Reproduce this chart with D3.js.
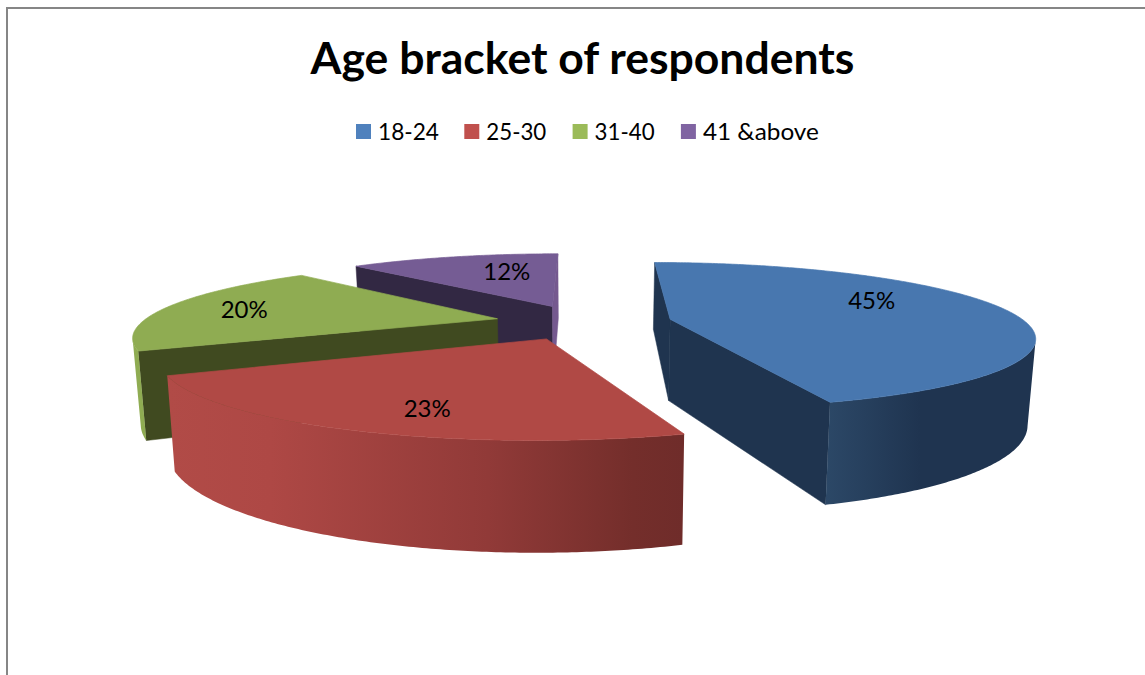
<!DOCTYPE html>
<html>
<head>
<meta charset="utf-8">
<script src="https://cdn.jsdelivr.net/npm/d3@7"></script>
<style>
html,body{margin:0;padding:0;background:#fff;overflow:hidden}
svg{display:block}
text{font-family:Lato,"Open Sans",sans-serif;fill:#000}
</style>
</head>
<body>
<svg id="chart" width="1145" height="675"></svg>
<script>
const title = "Age bracket of respondents";
const categories = ["18-24", "25-30", "31-40", "41 &above"];
const values = [45, 23, 20, 12];

const legendColors = ["#4F81BD", "#C0504D", "#9BBB59", "#8064A2"];
const topColors = ["#4877AF", "#B04945", "#8FAC52", "#755C94"];
const startWallColors = ["#1F344F", "#6F2C2A", "#404A20", "#322843"];
const endWallColors = ["#1F344F", "#B04945", "#8FAC52", "#75598F"];
const outerStops = [
  [[0, "#2C4867"], [0.45, "#1F3450"], [1, "#1F3450"]],
  [[0, "#B14B47"], [0.2, "#AE4845"], [0.62, "#913A38"], [0.9, "#742E2B"], [1, "#6F2C2A"]],
  [[0, "#8FAC52"], [1, "#8FAC52"]],
  [[0, "#75598F"], [1, "#75598F"]]
];
const legendTextWidths = [61, 60, 60, 116];
const paintOrder = [3, 2, 0, 1];
/* label placement around each slice: degrees from the mid-angle, fraction of radius */
const labelTurn = [-15.4, -4.8, -0.8, 6.6];
const labelReach = [0.684, 0.777, 0.76, 0.636];

/* perspective camera */
const vanishX = 583.5, vanishY = 2, planeDrop = 320, depthCam = 1615;
const radius = 355, explode = 88.5, sliceHeight = 82, baseShrink = 0.982;

const svg = d3.select("#chart");
const defs = svg.append("defs");

/* page frame: top and left rules only */
svg.append("path")
  .attr("d", "M7,675V8H1145")
  .attr("fill", "none").attr("stroke", "#868686").attr("stroke-width", 2);

svg.append("text").attr("x", 582.5).attr("y", 74)
  .attr("text-anchor", "middle").attr("font-size", 44.5).attr("font-weight", 700)
  .text(title);

/* legend */
const legendX = d3.scaleLinear().domain([0, 1]).range([356, 464.3]);
const legend = svg.append("g").selectAll("g").data(categories).join("g")
  .attr("transform", (d, i) => `translate(${legendX(i)},124)`);
legend.append("rect").attr("width", 15).attr("height", 15)
  .attr("fill", (d, i) => legendColors[i]);
legend.append("text").attr("x", 22).attr("y", 15.5).attr("font-size", 24)
  .attr("textLength", (d, i) => legendTextWidths[i]).attr("lengthAdjust", "spacingAndGlyphs")
  .text(d => d);

/* angles from the library's pie layout */
const arcs = d3.pie().sort(null).startAngle(0).endAngle(2 * Math.PI)(values);

function ground(a, r, s) {
  const mid = (s.startAngle + s.endAngle) / 2;
  return [explode * Math.sin(mid) + r * Math.sin(a), -explode * Math.cos(mid) - r * Math.cos(a)];
}
function project(p, lower) {
  const w = 1 / (1 - p[1] / depthCam);
  return lower
    ? [vanishX + p[0] * w * baseShrink, vanishY + (planeDrop + sliceHeight) * w]
    : [vanishX + p[0] * w, vanishY + planeDrop * w];
}
const poly = d3.line();
const closed = pts => poly(pts) + "Z";
function sweep(a0, a1) {
  const n = Math.max(2, Math.ceil((a1 - a0) / 0.01));
  return d3.range(n + 1).map(i => a0 + (a1 - a0) * i / n);
}
function faces(normal, point) {
  return normal[0] * (0 - point[0]) + normal[1] * (depthCam - point[1]) > 0;
}

const slices = svg.append("g");
paintOrder.forEach(i => {
  const s = arcs[i];
  const g = slices.append("g");
  const apex = ground(0, 0, s);
  const radialWall = (a, color) => {
    const rim = ground(a, radius, s);
    g.append("path").attr("fill", color).attr("stroke", color).attr("stroke-width", 0.5)
      .attr("d", closed([project(apex), project(rim), project(rim, true), project(apex, true)]));
  };
  const dA = a => [Math.cos(a), Math.sin(a)];
  if (faces(dA(s.startAngle).map(v => -v), apex)) radialWall(s.startAngle, startWallColors[i]);
  if (faces(dA(s.endAngle), apex)) radialWall(s.endAngle, endWallColors[i]);

  const visible = sweep(s.startAngle, s.endAngle).filter(a =>
    faces([Math.sin(a), -Math.cos(a)], ground(a, radius, s)));
  if (visible.length > 1) {
    const topEdge = visible.map(a => project(ground(a, radius, s)));
    const baseEdge = visible.map(a => project(ground(a, radius, s), true));
    const ext = d3.extent(topEdge.concat(baseEdge), d => d[0]);
    const id = "wall" + i;
    defs.append("linearGradient").attr("id", id)
      .attr("gradientUnits", "userSpaceOnUse")
      .attr("x1", ext[0]).attr("x2", ext[1]).attr("y1", 0).attr("y2", 0)
      .selectAll("stop").data(outerStops[i]).join("stop")
      .attr("offset", d => d[0]).attr("stop-color", d => d[1]);
    g.append("path").attr("fill", `url(#${id})`)
      .attr("d", closed(topEdge.concat(baseEdge.reverse())));
  }

  const face = [project(apex)].concat(
    sweep(s.startAngle, s.endAngle).map(a => project(ground(a, radius, s))));
  g.append("path").attr("fill", topColors[i]).attr("stroke", topColors[i]).attr("stroke-width", 0.7)
    .attr("d", closed(face));
});

/* percentage labels */
const labels = svg.append("g");
arcs.forEach((s, i) => {
  const mid = (s.startAngle + s.endAngle) / 2 + labelTurn[i] * Math.PI / 180;
  const at = project(ground(mid, radius * labelReach[i], s));
  labels.append("text").attr("x", at[0]).attr("y", at[1] + 8.5)
    .attr("text-anchor", "middle").attr("font-size", 24)
    .text(values[i] + "%");
});
</script>
</body>
</html>
